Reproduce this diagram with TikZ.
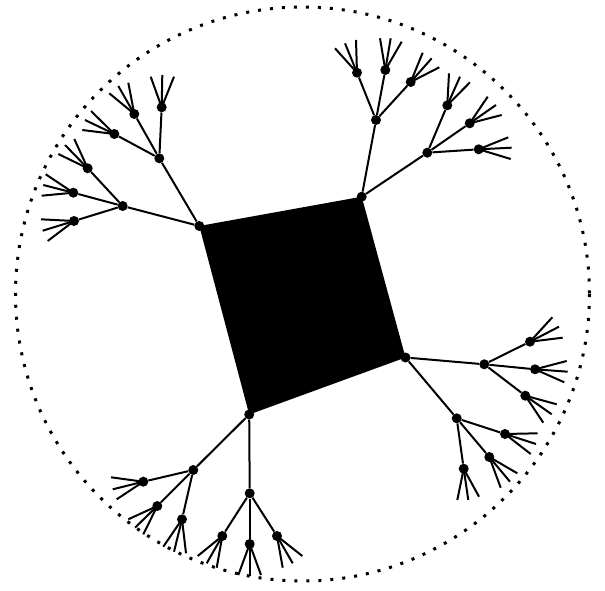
\documentclass[tikz,border=0pt]{standalone}
\begin{document}
\begin{tikzpicture}[x=1pt,y=-1pt,
  dot/.style={circle,fill=black,inner sep=0pt,minimum size=10pt},
  edge/.style={line width=2pt},
  ring/.style={line width=3pt,dash pattern=on 3pt off 9pt,line cap=butt}]
\useasboundingbox (0,0) rectangle (605,591);
\draw[ring] (302.5,294) circle[radius=287];
% corners
\node[dot] (q1) at (199.3,226) {};
\node[dot] (q2) at (361.7,196.7) {};
\node[dot] (q3) at (405.5,357.5) {};
\node[dot] (q4) at (249.2,414.5) {};
\fill (q1.center) -- (q2.center) -- (q3.center) -- (q4.center) -- cycle;
% level 1 and 2 nodes
\foreach \n/\x/\y in {
  a1/159.3/158.3, a2/122.7/206,
  a11/134.3/114, a12/161.7/107.3, a13/114.3/134,
  a21/87.7/168.3, a22/73.3/192.7, a23/74/221,
  b1/376/120, b2/427.3/152.7,
  b11/357/72.7, b12/385.3/70, b13/410.7/82,
  b21/447.3/105.3, b22/469.7/123.3, b23/478.7/149.3,
  c1/484.3/364.3, c2/456.7/418.3,
  c11/530/341.7, c12/535/369.3, c13/525.3/395.7,
  c21/505/434, c22/489.3/457, c23/463.7/468.7,
  d1/193.3/470, d2/249.7/493.3,
  d11/143.3/481.7, d12/157.3/506, d13/182/519.3,
  d21/222.3/536, d22/249.7/544, d23/277/536}
  {\node[dot] (\n) at (\x,\y) {};}
% connectors
\foreach \p/\c in {q1/a1,q1/a2,q2/b1,q2/b2,q3/c1,q3/c2,q4/d1,q4/d2}
  {\draw[edge] (\p) -- (\c);}
\foreach \p in {a1,a2,b1,b2,c1,c2,d1,d2}
  {\foreach \k in {1,2,3} {\draw[edge] (\p) -- (\p\k);}}
% spokes
\foreach \l/\xa/\ya/\xb/\yb/\xc/\yc in {
  a11/128.3/82.7/118.3/86/109.3/93.3,
  a12/150.7/76.7/162.3/75/174/76.7,
  a13/91/111/85/120/82.3/130,
  a21/74.3/139/65/145/58.3/154,
  a22/45.7/174.3/43.3/185/41.7/195.7,
  a23/41/219.3/42.7/230.7/47.7/241,
  b11/335/48.3/345/43.3/356/40,
  b12/380/38.3/390.7/38.3/401.7/41.7,
  b13/422.7/52.7/431.7/58.3/439.3/67.3,
  b21/449/73.3/460/76.7/470/82.3,
  b22/487.7/96.7/496/105/501.7/115,
  b23/508.3/137.3/511.7/147.7/510.7/159,
  c11/552.3/317.3/559/326.7/562.7/337.7,
  c12/566.7/361/567.7/371.7/564.3/382.3,
  c13/556.7/404.3/551.7/414.3/543.3/422.7,
  c21/537.7/433.3/536/444/530.7/454,
  c22/517.3/473.3/510/481.7/500.7/487.7,
  c23/479/496.7/468.3/500/457.3/500,
  d11/111/477.3/112.7/489.3/116.7/499.3,
  d12/128.3/519.3/135/527.7/143.3/534.3,
  d13/163.3/546.7/174/551.7/186/553.3,
  d21/197.7/556/206.7/563.3/216.7/567.7,
  d22/238.3/575/249.7/575.7/261/575,
  d23/282.7/567.7/292.7/563.3/302.3/556}
  {\coordinate (\l-s1) at (\xa,\ya);
   \coordinate (\l-s2) at (\xb,\yb);
   \coordinate (\l-s3) at (\xc,\yc);
   \draw[edge] (\l.center) -- (\l-s1);
   \draw[edge] (\l.center) -- (\l-s2);
   \draw[edge] (\l.center) -- (\l-s3);}
\end{tikzpicture}
\end{document}
